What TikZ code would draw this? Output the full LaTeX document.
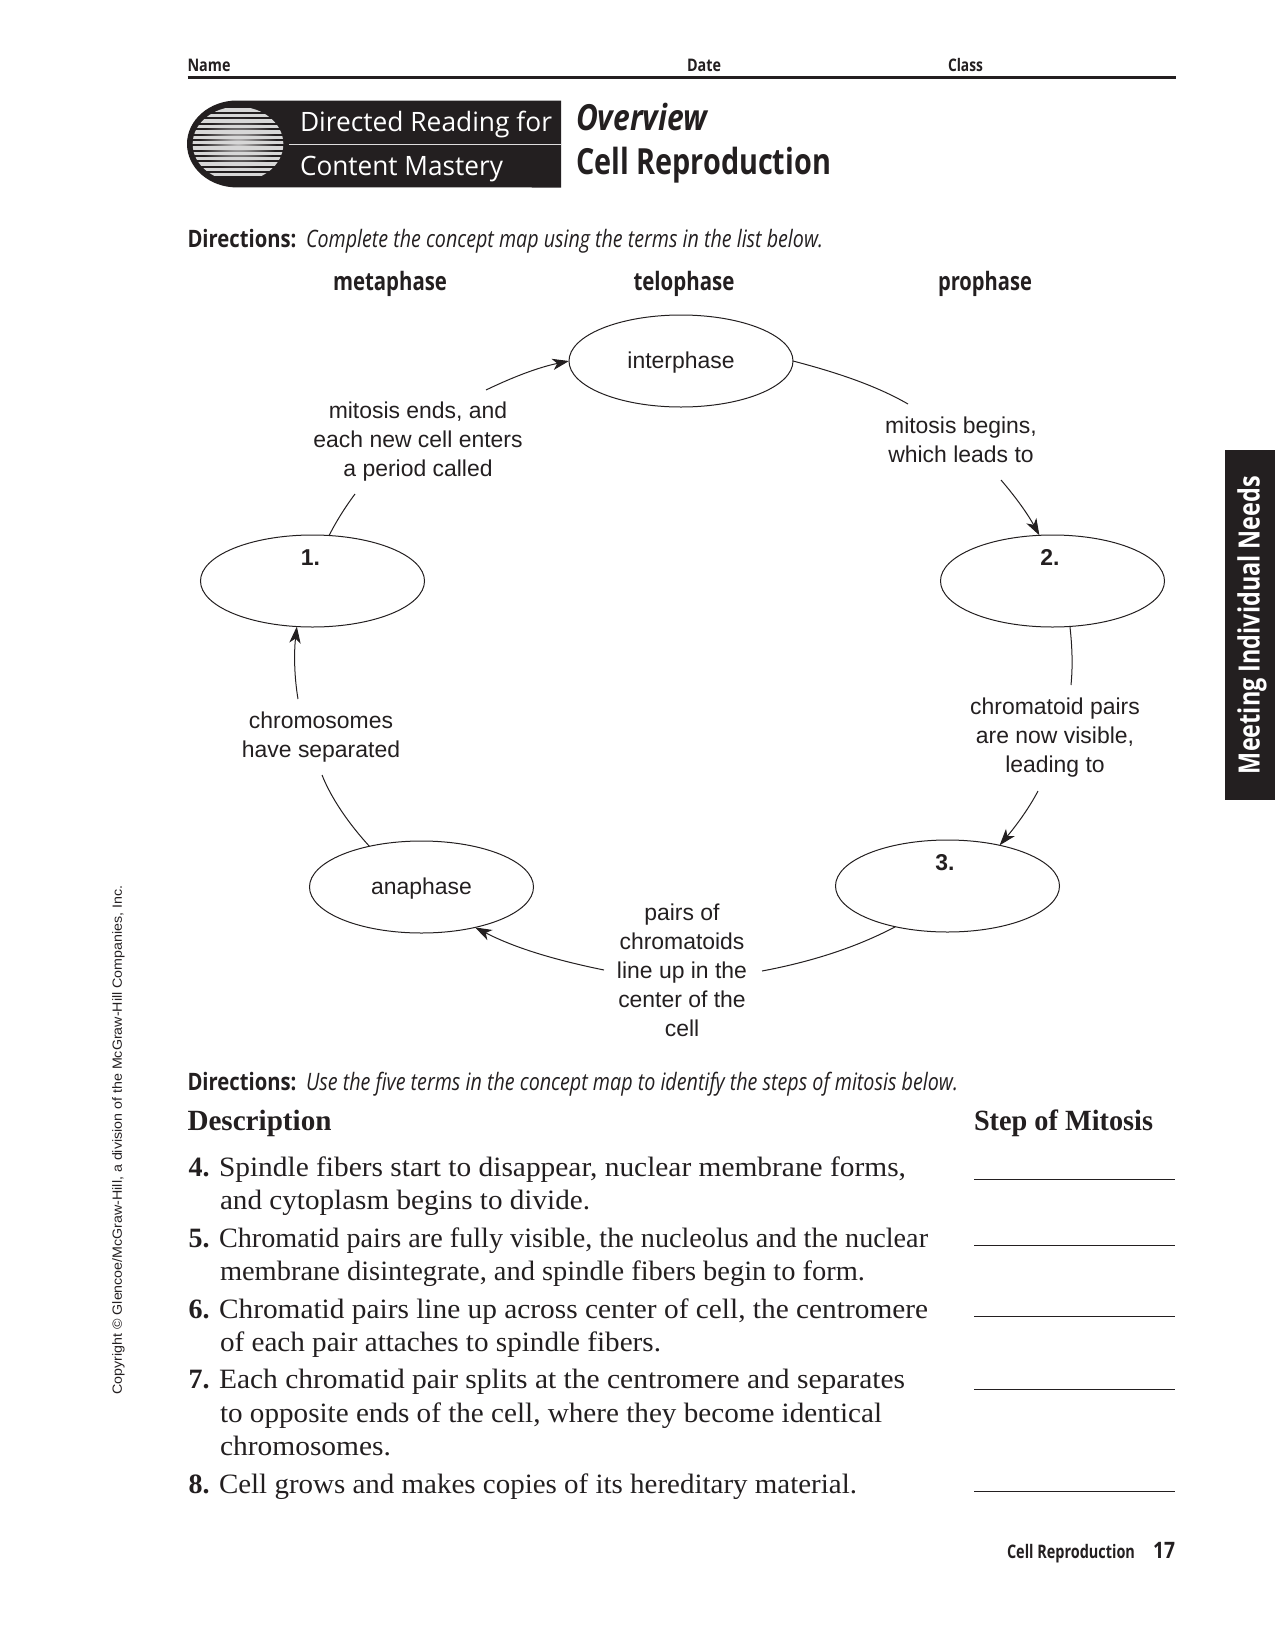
\documentclass[tikz,border=0pt]{standalone}
\usepackage{fontspec}
\usepackage{graphicx}
\usetikzlibrary{arrows.meta,shapes.geometric}
\setmainfont{Liberation Serif}
\newfontfamily\hd{Open Sans}
\newfontfamily\lab{Liberation Sans}
\definecolor{ink}{HTML}{231F20}
\newdimen\pxu \pxu=0.75pt
\newcommand\fw[2]{\resizebox{#1\pxu}{\height}{#2}}
\newcommand\hb[2]{{\hd\bfseries\fontsize{#1}{#1}\selectfont #2}}
\newcommand\hi[2]{{\hd\itshape\fontsize{#1}{#1}\selectfont #2}}
\newcommand\sr[1]{{\fontsize{21}{21}\selectfont #1}}
\newcommand\srb[1]{{\fontsize{21}{21}\selectfont\bfseries #1}}
\tikzset{
 every node/.style={inner sep=0pt,outer sep=0pt,text=ink},
 tx/.style={anchor=base west},
 txc/.style={anchor=base},
 bubble/.style={ellipse,draw=ink,line width=0.75pt,minimum width=168pt,minimum height=69pt},
 lbl/.style={align=center,font=\lab\fontsize{17.2}{21.8}\selectfont},
 num/.style={font=\lab\bfseries\fontsize{17.2}{20}\selectfont,anchor=base},
 conn/.style={draw=ink,line width=0.75pt},
 arr/.style={conn,-{Stealth[length=12.5pt,width=8.5pt,inset=3.5pt]}},
 blank/.style={draw=ink,line width=0.75pt},
}
\begin{document}
\begin{tikzpicture}[x=0.75pt,y=-0.75pt]
\useasboundingbox (0,0) rectangle (1275,1632);
% header
\node[tx] (name) at (187.5,71) {\fw{43}{\hb{13}{Name}}};
\node[tx] (date) at (687,71) {\fw{34}{\hb{13}{Date}}};
\node[tx] (class) at (948,71) {\fw{35}{\hb{13}{Class}}};
\draw[ink,line width=1.6pt] (187.5,77.5) -- (1175.5,77.5);
% banner
\fill[ink] (237,100.5) arc[start angle=90,end angle=270,x radius=37.5pt,y radius=32.6pt] -- (561,187.5) -- (561,100.5) -- cycle;
\begin{scope}
\clip (238,144) ellipse[x radius=34pt,y radius=28pt];
\shade[inner color=white!72!ink,outer color=ink] (238,143) ellipse[x radius=29pt,y radius=20pt];
\foreach \sy in {110,115.6,121,126.5,132,137.3,142.7,148,153.3,158.6,164,169.2,174.4}
  \fill[white!82!ink] (190,\sy-1.7) rectangle (286,\sy+1.7);
\end{scope}
\fill[white!85!ink] (289,143.6) rectangle (561,145.2);
\node[tx,text=white] (b1) at (300,131.5) {\fw{252}{{\hd\fontsize{20}{20}\selectfont Directed Reading for}}};
\node[tx,text=white] (b2) at (300,175.5) {\fw{203}{{\hd\fontsize{20}{20}\selectfont Content Mastery}}};
\node[tx] (ov) at (576,130) {\fw{131}{\hi{27}{\bfseries Overview}}};
\node[tx] (cr) at (576,174) {\fw{255}{\hb{27}{Cell Reproduction}}};
% directions 1
\node[tx] (d1) at (187.5,247) {\fw{109}{\hb{18}{Directions:}}};
\node[tx] (d1t) at (306,247) {\fw{517}{\hi{18}{Complete the concept map using the terms in the list below.}}};
\node[txc] (t1) at (390,290) {\fw{114}{\hb{19}{metaphase}}};
\node[txc] (t2) at (684,290) {\fw{101}{\hb{19}{telophase}}};
\node[txc] (t3) at (985,290) {\fw{94}{\hb{19}{prophase}}};
% concept map
\node[bubble] (inter) at (681,361) {};
\node[bubble] (one) at (312.5,581) {};
\node[bubble] (two) at (1052.5,581) {};
\node[bubble] (three) at (947.5,886) {};
\node[bubble] (ana) at (421.5,887) {};
\node[lbl] (interT) at (681,363) {interphase};
\node[lbl] (anaT) at (421.5,889) {anaphase};
\node[num] (oneT) at (310.5,565) {1.};
\node[num] (twoT) at (1050,565) {2.};
\node[num] (threeT) at (945,870) {3.};
\node[lbl] (lEnds) at (418,441.5) {mitosis ends, and\\each new cell enters\\a period called};
\node[lbl] (lBegins) at (961,440) {mitosis begins,\\which leads to};
\node[lbl] (lVisible) at (1055,737.5) {chromatoid pairs\\are now visible,\\leading to};
\node[lbl] (lSep) at (321,737) {chromosomes\\have separated};
\node[lbl] (lPairs) at (682,970) {pairs of\\chromatoids\\line up in the\\center of the\\cell};
\coordinate (a1) at (486,390);
\coordinate (b1e) at (908,404);
\coordinate (c1) at (1001,480);
\coordinate (d1e) at (1071,685);
\coordinate (e1) at (1038,791);
\coordinate (f1) at (762,971);
\coordinate (g1) at (604,970);
\coordinate (h1) at (322,775);
\coordinate (i1) at (298,699);
\coordinate (j1) at (355,494);
\draw[arr] (a1) .. controls (515,376) and (540,367) .. (inter.west);
\draw[conn] (inter.east) .. controls (835,372) and (875,385) .. (b1e);
\draw[arr] (c1) .. controls (1013,494) and (1026,511) .. (two.106);
\draw[conn] (two.-69) .. controls (1072,645) and (1073,665) .. (d1e);
\draw[arr] (e1) .. controls (1028,810) and (1015,827) .. (three.38);
\draw[conn] (three.218) .. controls (855,948) and (810,962) .. (f1);
\draw[arr] (g1) .. controls (555,960) and (515,948) .. (ana.-37);
\draw[conn] (ana.142) .. controls (350,825) and (332,800) .. (h1);
\draw[arr] (i1) .. controls (294,675) and (294,652) .. (one.251);
\draw[conn] (one.70) .. controls (337,520) and (346,506) .. (j1);
% directions 2
\node[tx] (d2) at (187.5,1090) {\fw{109}{\hb{18}{Directions:}}};
\node[tx] (d2t) at (306,1090) {\fw{652}{\hi{18}{Use the five terms in the concept map to identify the steps of mitosis below.}}};
\node[tx] (desc) at (187.5,1130) {\fw{144}{{\fontsize{22}{22}\selectfont\bfseries Description}}};
\node[tx] (step) at (974,1130) {\fw{179}{{\fontsize{22}{22}\selectfont\bfseries Step of Mitosis}}};
\node[tx] (n4) at (188.5,1176) {\srb{4.}};
\node[tx] (l4a) at (219,1176) {\fw{687}{\sr{Spindle fibers start to disappear, nuclear membrane forms,}}};
\node[tx] (l4b) at (220,1209) {\fw{370}{\sr{and cytoplasm begins to divide.}}};
\node[tx] (n5) at (188.5,1247) {\srb{5.}};
\node[tx] (l5a) at (219,1247) {\fw{709}{\sr{Chromatid pairs are fully visible, the nucleolus and the nuclear}}};
\node[tx] (l5b) at (220,1280) {\fw{645}{\sr{membrane disintegrate, and spindle fibers begin to form.}}};
\node[tx] (n6) at (188.5,1318) {\srb{6.}};
\node[tx] (l6a) at (219,1318) {\fw{709}{\sr{Chromatid pairs line up across center of cell, the centromere}}};
\node[tx] (l6b) at (220,1351) {\fw{441}{\sr{of each pair attaches to spindle fibers.}}};
\node[tx] (n7) at (188.5,1388) {\srb{7.}};
\node[tx] (l7a) at (219,1388) {\fw{686}{\sr{Each chromatid pair splits at the centromere and separates}}};
\node[tx] (l7b) at (220,1422) {\fw{662}{\sr{to opposite ends of the cell, where they become identical}}};
\node[tx] (l7c) at (220,1455) {\fw{171}{\sr{chromosomes.}}};
\node[tx] (n8) at (188.5,1493) {\srb{8.}};
\node[tx] (l8a) at (219,1493) {\fw{638}{\sr{Cell grows and makes copies of its hereditary material.}}};
\draw[blank] (974,1179) -- (1175,1179);
\draw[blank] (974,1245.5) -- (1175,1245.5);
\draw[blank] (974,1316.5) -- (1175,1316.5);
\draw[blank] (974,1389.5) -- (1175,1389.5);
\draw[blank] (974,1491.5) -- (1175,1491.5);
% footer
\node[anchor=base east] (f1t) at (1135,1558) {\fw{128}{\hb{14}{Cell Reproduction}}};
\node[anchor=base east] (f2t) at (1175,1558) {\fw{22}{\hb{17}{17}}};
% side tab
\fill[ink] (1225,450) rectangle (1275,800);
\node[rotate=90,text=white] (tab) at (1252,625) {\fw{298}{\hb{22}{Meeting Individual Needs}}};
\node[rotate=90] (copy) at (118.5,1140) {\fw{509}{{\lab\fontsize{10}{10}\selectfont Copyright © Glencoe/McGraw-Hill, a division of the McGraw-Hill Companies, Inc.}}};
\end{tikzpicture}
\end{document}
